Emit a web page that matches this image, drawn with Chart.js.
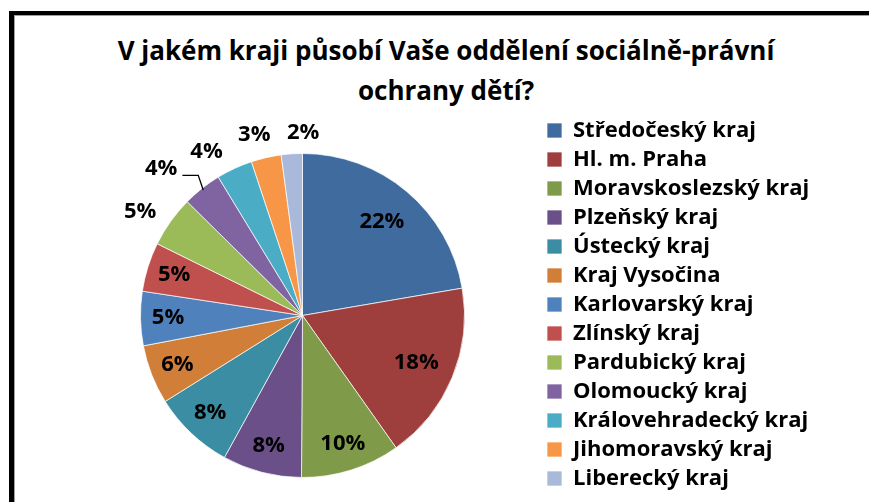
<!DOCTYPE html>
<html lang="cs">
<head>
<meta charset="UTF-8">
<title>OSPOD podle krajů</title>
<script src="https://cdn.jsdelivr.net/npm/chart.js"></script>
<style>
    body {
        margin: 0;
        background: #fff;
        font-family: 'Open Sans', Lato, sans-serif;
        width: 869px;
        height: 502px;
        overflow: hidden;
        position: relative;
    }
    .frame {
        position: absolute;
        left: 9px;
        top: 11px;
        width: 900px;
        height: 560px;
        border-left: 5px solid #000;
        border-top: 4px solid #000;
        box-shadow: inset 1px 1px 0 #a0a0a0;
    }
    .title {
        position: absolute;
        left: 14px;
        top: 30px;
        width: 864px;
        text-align: center;
        font-weight: bold;
        font-size: 26px;
        line-height: 40px;
        color: #000;
    }
    .chart-box {
        position: absolute;
        left: 14px;
        top: 15px;
        width: 880px;
        height: 520px;
    }
</style>
</head>
<body>
    <div class="frame"></div>
    <div class="title">V jakém kraji působí Vaše oddělení sociálně-právní<br>ochrany dětí?</div>
    <div class="chart-box"><canvas id="pie"></canvas></div>
<script>
    const regions = [
        'Středočeský kraj', 'Hl. m. Praha', 'Moravskoslezský kraj', 'Plzeňský kraj',
        'Ústecký kraj', 'Kraj Vysočina', 'Karlovarský kraj', 'Zlínský kraj',
        'Pardubický kraj', 'Olomoucký kraj', 'Královehradecký kraj', 'Jihomoravský kraj',
        'Liberecký kraj'
    ];
    // share of answers in %
    const shares = [22.3, 17.9, 9.9, 7.9, 8.1, 5.9, 5.4, 4.9, 5.1, 3.9, 3.6, 3.0, 2.1];
    const colors = [
        '#3F6B9F', '#9E3F3D', '#7F9B4A', '#6A4F89', '#3B8DA3', '#D17E38', '#4F81BD',
        '#C0504D', '#9BBB59', '#8064A2', '#4BACC6', '#F79646', '#A9B9D9'
    ];

    // labels of the first slices sit inside, the rest outside; one gets a leader line
    const insideCount = 8;
    const calloutIndex = 9;
    // small turns (degrees) of the outside labels, like Excel's best fit
    const labelTurn = { 8: -3, 9: -5.5, 10: -5.5, 11: -2, 12: 4 };

    const pieLabels = {
        id: 'pieLabels',
        afterDatasetsDraw(chart) {
            const ctx = chart.ctx;
            const arcs = chart.getDatasetMeta(0).data;
            const total = shares.reduce((a, b) => a + b, 0);
            ctx.save();
            ctx.font = "bold 22px 'Open Sans'";
            ctx.fillStyle = '#000';
            ctx.strokeStyle = '#000';
            ctx.lineWidth = 1.3;
            ctx.textAlign = 'center';
            ctx.textBaseline = 'middle';
            arcs.forEach((arc, i) => {
                const p = arc.getProps(['x', 'y', 'startAngle', 'endAngle', 'outerRadius'], true);
                const text = Math.round(shares[i] / total * 100) + '%';
                const w = ctx.measureText(text).width;
                const a = (p.startAngle + p.endAngle) / 2;
                const mid = a + (labelTurn[i] || 0) * Math.PI / 180;
                let d;
                if (i < insideCount) {
                    d = p.outerRadius * (shares[i] >= 15 ? 0.76 : 0.83);
                } else if (i === calloutIndex) {
                    d = p.outerRadius + 42;
                } else {
                    d = p.outerRadius + 12 + Math.abs(Math.cos(mid)) * w / 2 + Math.abs(Math.sin(mid)) * 9;
                }
                const lx = p.x + Math.cos(mid) * d;
                const ly = p.y + Math.sin(mid) * d;
                ctx.fillText(text, lx, ly);
                if (i === calloutIndex) {
                    const ex = p.x + Math.cos(a) * (p.outerRadius - 2);
                    const ey = p.y + Math.sin(a) * (p.outerRadius - 2);
                    ctx.beginPath();
                    ctx.moveTo(lx + w / 2 + 5, ly + 7);
                    ctx.lineTo(ex - 5, ly + 7);
                    ctx.lineTo(ex, ey);
                    ctx.stroke();
                }
            });
            ctx.restore();
        }
    };

    // keep the legend box a fixed width so the pie sits where it should
    const legendWidth = {
        id: 'legendWidth',
        beforeInit(chart) {
            const legend = chart.legend;
            const fit = legend.fit;
            legend.fit = function () {
                fit.call(this);
                this.width = 300;
            };
        }
    };

    new Chart(document.getElementById('pie'), {
        type: 'pie',
        data: {
            labels: regions,
            datasets: [{
                data: shares,
                backgroundColor: colors,
                borderColor: 'rgba(255,255,255,0.7)',
                borderWidth: 1
            }]
        },
        options: {
            responsive: true,
            maintainAspectRatio: false,
            animation: false,
            radius: 162,
            layout: {
                padding: { left: 51, top: 97.5, right: 54, bottom: 16.5 }
            },
            plugins: {
                tooltip: { enabled: false },
                legend: {
                    position: 'right',
                    align: 'start',
                    labels: {
                        boxWidth: 15,
                        boxHeight: 15,
                        padding: 7,
                        color: '#000',
                        font: { family: 'Open Sans', size: 22, weight: 'bold' }
                    }
                }
            }
        },
        plugins: [pieLabels, legendWidth]
    });
</script>
</body>
</html>
